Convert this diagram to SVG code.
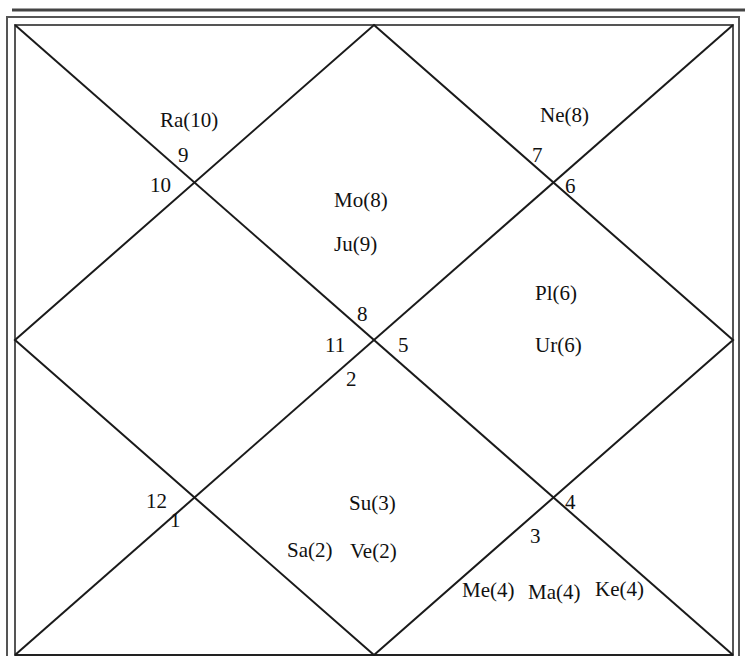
<svg xmlns="http://www.w3.org/2000/svg" width="745" height="656" viewBox="0 0 745 656">
<style>
.frame{fill:none;stroke:#555;stroke-width:2}
.ln{stroke:#1a1a1a;stroke-width:2;fill:none}
text{font-family:"Liberation Serif","Times New Roman",serif;font-size:21px;fill:#111}
</style>
<rect width="745" height="656" fill="#fff"/>
<line x1="12" y1="10" x2="745" y2="10" stroke="#444" stroke-width="3"/>
<g id="frame">
<rect class="frame" x="7" y="17" width="732" height="645"/>
<rect class="frame" x="15" y="25" width="718" height="630"/>
<line x1="15" y1="655" x2="733" y2="655" stroke="#222" stroke-width="2"/>
</g>
<g id="connectors">
<line class="ln" x1="15" y1="25" x2="733" y2="655"/>
<line class="ln" x1="733" y1="25" x2="15" y2="655"/>
<polygon class="ln" points="374,25 733,340 374,655 15,340"/>
</g>
<g id="house1"><text x="160" y="127">Ra(10)</text><text x="178" y="162">9</text><text x="150" y="192">10</text></g>
<g id="house2"><text x="540" y="122">Ne(8)</text><text x="532" y="162">7</text><text x="565" y="193">6</text></g>
<g id="house3"><text x="334" y="207">Mo(8)</text><text x="334" y="251">Ju(9)</text><text x="357" y="321">8</text><text x="325" y="352">11</text><text x="398" y="352">5</text><text x="346" y="386">2</text></g>
<g id="house4"><text x="535" y="300">Pl(6)</text><text x="535" y="352">Ur(6)</text></g>
<g id="house5"><text x="146" y="508">12</text><text x="170" y="527">1</text></g>
<g id="house6"><text x="349" y="510">Su(3)</text><text x="287" y="557">Sa(2)</text><text x="350" y="558">Ve(2)</text></g>
<g id="house7"><text x="565" y="509">4</text><text x="530" y="543">3</text><text x="462" y="597">Me(4)</text><text x="528" y="599">Ma(4)</text><text x="595" y="596">Ke(4)</text></g>
</svg>
